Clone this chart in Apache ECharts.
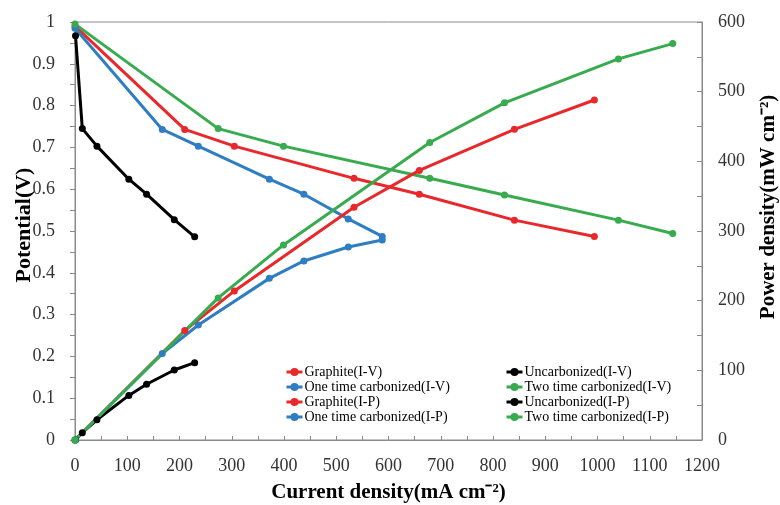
<!DOCTYPE html>
<html>
<head>
<meta charset="utf-8">
<script src="https://cdn.jsdelivr.net/npm/echarts@6/dist/echarts.min.js"></script>
<style>html,body{margin:0;padding:0;background:#fff}#c{width:780px;height:505px}</style>
</head>
<body>
<div id="c"></div>
<script>
// Current density (mA cm-2)
const graphiteI = [0, 210, 305, 534, 659, 841, 994];
const oneTimeI  = [0, 167, 236, 372, 438, 523, 588];
const uncarbI   = [1, 14, 42, 103, 137, 190, 229];
const twoTimeI  = [0, 274, 399, 679, 822, 1040, 1144];
// Potential (V)
const graphiteV = [0.99, 0.743, 0.703, 0.626, 0.588, 0.526, 0.487];
const oneTimeV  = [0.985, 0.743, 0.703, 0.624, 0.588, 0.529, 0.487];
const uncarbV   = [0.967, 0.745, 0.703, 0.624, 0.588, 0.527, 0.486];
const twoTimeV  = [0.995, 0.745, 0.703, 0.626, 0.586, 0.526, 0.494];
// Power density (mW cm-2)
const graphiteP = [0, 157, 214, 334, 387, 446, 488];
const oneTimeP  = [0, 124, 165, 232, 257, 277, 287];
const uncarbP   = [0, 10.5, 29, 64, 80, 100.5, 111];
const twoTimeP  = [0, 204, 280, 427, 484, 547, 569];

const legendCol1 = ['Graphite(I-V)', 'One time carbonized(I-V)', 'Graphite(I-P)', 'One time carbonized(I-P)'];
const legendCol2 = ['Uncarbonized(I-V)', 'Two time carbonized(I-V)', 'Uncarbonized(I-P)', 'Two time carbonized(I-P)'];

const RED = '#e8282b', BLUE = '#2f7dc2', GREEN = '#37ab4e', BLACK = '#000000';
const FONT = "'Liberation Serif', 'Times New Roman', serif";

const pts = (xs, ys) => xs.map((x, i) => [x, ys[i]]);
function mk(name, xs, ys, color, yIdx) {
  return {
    name: name, type: 'line', yAxisIndex: yIdx, data: pts(xs, ys),
    symbol: 'circle', symbolSize: 7, showSymbol: true,
    lineStyle: { color: color, width: 3 }, itemStyle: { color: color },
    emphasis: { disabled: true }
  };
}

const series = [
  mk('Graphite(I-V)', graphiteI, graphiteV, RED, 0),
  mk('Uncarbonized(I-V)', uncarbI, uncarbV, BLACK, 0),
  mk('One time carbonized(I-V)', oneTimeI, oneTimeV, BLUE, 0),
  mk('Two time carbonized(I-V)', twoTimeI, twoTimeV, GREEN, 0),
  mk('Graphite(I-P)', graphiteI, graphiteP, RED, 1),
  mk('Uncarbonized(I-P)', uncarbI, uncarbP, BLACK, 1),
  mk('One time carbonized(I-P)', oneTimeI, oneTimeP, BLUE, 1),
  mk('Two time carbonized(I-P)', twoTimeI, twoTimeP, GREEN, 1)
];

const axisGray = '#8a8a8a';
const labelColor = '#333';
const legendBase = {
  orient: 'vertical', top: 360, itemGap: 1, itemWidth: 16, itemHeight: 10,
  lineStyle: { width: 3 },
  textStyle: { fontFamily: FONT, fontSize: 14, color: '#000', padding: [0, 0, 0, -3] },
  selectedMode: false
};

const chart = echarts.init(document.getElementById('c'));
chart.setOption({
  animation: false,
  backgroundColor: '#fff',
  grid: { left: 75, right: 78, top: 22, bottom: 65, outerBoundsMode: 'none', containLabel: false,
          show: true, borderColor: axisGray, borderWidth: 1, backgroundColor: 'transparent' },
  legend: [
    Object.assign({}, legendBase, { left: 280, data: legendCol1 }),
    Object.assign({}, legendBase, { left: 500, data: legendCol2 })
  ],
  xAxis: {
    type: 'value', min: 0, max: 1200, interval: 100,
    name: 'Current density(mA cm\u207B\u00B2)', nameLocation: 'middle', nameGap: 42, nameMoveOverlap: false,
    nameTextStyle: { fontFamily: FONT, fontSize: 21, fontWeight: 'bold', color: '#000' },
    axisLine: { show: true, lineStyle: { color: axisGray, width: 1 } },
    axisTick: { show: true, inside: true, length: 4, lineStyle: { color: axisGray } },
    minorTick: { show: true, splitNumber: 2, length: 4, lineStyle: { color: axisGray } },
    splitLine: { show: false },
    axisLabel: { fontFamily: FONT, fontSize: 18, color: labelColor, margin: 17, formatter: v => String(v) }
  },
  yAxis: [
    {
      type: 'value', min: 0, max: 1, interval: 0.1, position: 'left',
      name: 'Potential(V)', nameLocation: 'middle', nameRotate: 90, nameGap: 40, nameMoveOverlap: false,
      nameTextStyle: { fontFamily: FONT, fontSize: 22, fontWeight: 'bold', color: '#000', padding: [0, 0, 0, 12] },
      axisLine: { show: true, lineStyle: { color: axisGray, width: 1 } },
      axisTick: { show: true, inside: false, length: 5, lineStyle: { color: axisGray } },
      minorTick: { show: true, splitNumber: 2, length: 5, lineStyle: { color: axisGray } },
      splitLine: { show: false },
      axisLabel: { fontFamily: FONT, fontSize: 18, color: labelColor, margin: 20 }
    },
    {
      type: 'value', min: 0, max: 600, interval: 100, position: 'right',
      name: 'Power density(mW cm\u207B\u00B2)', nameLocation: 'middle', nameRotate: 90, nameGap: 56, nameMoveOverlap: false,
      nameTextStyle: { fontFamily: FONT, fontSize: 21, fontWeight: 'bold', color: '#000', padding: [0, 0, 0, 48] },
      axisLine: { show: true, lineStyle: { color: axisGray, width: 1 } },
      axisTick: { show: true, inside: true, length: 5, lineStyle: { color: axisGray } },
      minorTick: { show: true, splitNumber: 2, length: 5, lineStyle: { color: axisGray } },
      splitLine: { show: false },
      axisLabel: { fontFamily: FONT, fontSize: 18, color: labelColor, margin: 16 }
    }
  ],
  series: series
});
</script>
</body>
</html>
